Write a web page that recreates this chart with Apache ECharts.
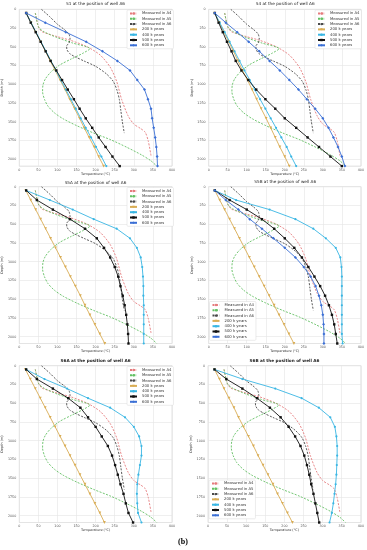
<!DOCTYPE html>
<html><head><meta charset="utf-8">
<script src="https://cdn.jsdelivr.net/npm/echarts/dist/echarts.min.js"></script>
<style>html,body{margin:0;padding:0;background:#fff}#c{width:367px;height:550px}</style>
</head><body><div id="c"></div>
<script>
// ---------- DATA ----------
const panelTitles = ['S1 at the position of well A6','S4 at the position of well A6','S5A at the position of well A6','S5B at the position of well A6','S6A at the position of well A6','S6B at the position of well A6'];
const seriesNames = ['Measured in A4','Measured in A5','Measured in A6','200 k years','400 k years','500 k years','600 k years'];
const xTicks = [0,50,100,150,200,250,300,350,400];
const yTicks = [0,250,500,750,1000,1250,1500,1750,2000];
const depthMax = 2090;

// measured profiles (same in every panel)
const a4Temp  = [42,48,52,60,100,135,178,212,238,255,268,285,300,318,330,338,345];
const a4Depth = [50,200,250,300,365,415,500,610,770,960,1200,1420,1530,1590,1640,1760,1950];
const a5Temp  = [42,48,52,65,98,140,185,165,135,105,82,68,62,61,66,75,92,115,150,195,240,282,320,345,360];
const a5Depth = [50,200,250,300,375,450,525,590,665,745,840,930,1010,1100,1200,1290,1380,1460,1550,1650,1740,1840,1940,2020,2090];
const a6Temp  = [58,80,100,118,130,133,130,124,125,132,145,170,200,228,246,256,262,266,270,275];
const a6Depth = [0,100,200,270,330,400,450,490,540,590,630,690,760,860,960,1080,1200,1350,1500,1650];

// simulated profiles: depth nodes shared by all simulated curves
const simDepth = [50,178,305,433,560,688,815,943,1070,1198,1325,1453,1580,1708,1835,1963,2090];

const s1_200k = [18,31,43,56,69,81,94,107,120,132,145,158,170,183,196,208,221];
const s1_400k = [18,31,44,57,70,83,96,109,122,135,148,161,174,188,201,215,228];
const s1_500k = [18,30,43,56,69,82,97,112,127,143,158,174,191,208,226,244,263];
const s1_600k = [18,68,122,175,218,257,290,309,328,337,345,348,352,356,359,361,362];

const s4_200k = [16,28,40,53,65,77,89,102,114,126,138,151,163,175,187,200,212];
const s4_400k = [16,29,42,55,68,81,94,108,121,135,149,163,177,191,205,217,230];
const s4_500k = [16,26,37,48,60,71,86,104,125,149,175,200,230,260,290,320,350];
const s4_600k = [16,45,75,105,133,160,187,212,236,258,280,300,315,328,340,350,358];

const s5a_200k = [17,30,43,56,69,82,95,108,121,134,147,160,172,185,198,211,224];
const s5a_400k = [18,80,140,195,255,290,308,318,322,324,325,325,326,326,326,326,326];
const s5a_500k = [18,46,88,133,172,203,222,238,250,259,265,271,276,280,283,285,286];
const s5a_600k = [];

const s5b_200k = [16,29,42,55,68,81,94,107,120,133,146,159,172,185,198,211,224];
const s5b_400k = [16,72,160,228,275,308,334,346,349,350,350,350,350,350,350,350,352];
const s5b_500k = [16,55,100,140,172,200,225,245,262,278,293,306,316,324,330,334,338];
const s5b_600k = [16,45,78,108,140,170,200,228,250,268,281,290,296,300,302,303,303];

const s6a_200k = [16,29,42,55,68,81,94,107,120,133,146,159,172,185,198,211,223];
const s6a_400k = [18,66,125,180,238,277,300,314,320,320,316,312,309,308,309,311,320];
const s6a_500k = [18,46,88,128,160,180,200,216,232,243,251,258,265,273,279,286,298];
const s6a_600k = [];

const s6b_200k = [17,30,42,55,68,80,93,106,119,131,144,157,170,182,195,208,221];
const s6b_400k = [17,90,176,245,290,320,332,336,338,338,337,336,334,331,328,324,318];
const s6b_500k = [17,48,90,128,162,190,211,228,242,252,259,265,270,276,281,286,291];
const s6b_600k = [];

const simPanels = [
  [s1_200k, s1_400k, s1_500k, s1_600k],
  [s4_200k, s4_400k, s4_500k, s4_600k],
  [s5a_200k, s5a_400k, s5a_500k, s5a_600k],
  [s5b_200k, s5b_400k, s5b_500k, s5b_600k],
  [s6a_200k, s6a_400k, s6a_500k, s6a_600k],
  [s6b_200k, s6b_400k, s6b_500k, s6b_600k]
];

// ---------- LAYOUT / STYLE ----------
const layout = [
  {l:19,  t:9.3,   title:4.3,   bold:false, leg:{left:127, top:10}},
  {l:208.7,t:9.3,  title:4.3,   bold:false, leg:{left:315, top:10}},
  {l:19,  t:186.7, title:183.3, bold:false, leg:{left:127, top:187.5}},
  {l:208.7,t:186.7,title:182.3, bold:false, leg:{left:209.5, top:301.5}},
  {l:19,  t:365.7, title:360.5, bold:true,  leg:{left:127, top:366.5}},
  {l:208,  t:365.7,title:360.5, bold:true,  leg:{left:209, top:480}}
];
const W = 153, H = 156.8;
const styles = [
  {color:'#e57b7d', dash:true},
  {color:'#63c063', dash:true},
  {color:'#4a4a4a', dash:true},
  {color:'#d9ad55', symbol:'triangle', rotate:180, size:2.8},
  {color:'#39b6e3', symbol:'circle', size:2.2},
  {color:'#111111', symbol:'rect', size:2.4},
  {color:'#3b6fd5', symbol:'diamond', size:3}
];
const measured = [[a4Temp,a4Depth],[a5Temp,a5Depth],[a6Temp,a6Depth]];

function pairs(t, d){ return t.map((v,i)=>[v, d[i]]); }

const grids=[], xAxes=[], yAxes=[], series=[], legends=[], graphics=[];
const lblFont = {fontSize:3.3, color:'#555', fontFamily:'DejaVu Sans'};
layout.forEach((p, i) => {
  grids.push({left:p.l, top:p.t, width:W, height:H, show:true, borderColor:'#d0d0d0', borderWidth:0.6});
  xAxes.push({gridIndex:i, type:'value', min:xTicks[0], max:xTicks[xTicks.length-1], interval:xTicks[1]-xTicks[0],
    axisLine:{show:false}, axisTick:{show:false},
    axisLabel:Object.assign({margin:2.5}, lblFont),
    splitLine:{lineStyle:{color:'#e4e4e4', width:0.6}},
    name:'Temperature (°C)', nameLocation:'middle', nameGap:6,
    nameTextStyle:{fontSize:3.4, color:'#333', fontFamily:'DejaVu Sans'}});
  yAxes.push({gridIndex:i, type:'value', inverse:true, min:0, max:depthMax, interval:yTicks[1]-yTicks[0],
    axisLine:{show:false}, axisTick:{show:false},
    axisLabel:Object.assign({margin:3, formatter:v => yTicks.indexOf(v) >= 0 ? String(v) : ''}, lblFont),
    splitLine:{lineStyle:{color:'#e4e4e4', width:0.6}},
    name:'Depth (m)', nameLocation:'middle', nameGap:13, nameRotate:90,
    nameTextStyle:{fontSize:3.4, color:'#333', fontFamily:'DejaVu Sans'}});
  measured.forEach((m, k) => {
    const s = styles[k];
    series.push({type:'line', name:seriesNames[k], xAxisIndex:i, yAxisIndex:i,
      data:pairs(m[0], m[1]), symbol:'none', showSymbol:false, smooth:0.25,
      lineStyle:{color:s.color, width:0.9, type:[2,1.4]}, itemStyle:{color:s.color}});
  });
  simPanels[i].forEach((arr, k) => {
    const s = styles[k+3];
    series.push({type:'line', name:seriesNames[k+3], xAxisIndex:i, yAxisIndex:i,
      data:pairs(arr, simDepth), symbol:s.symbol, symbolSize:s.size, symbolRotate:s.rotate||0, showSymbol:true,
      lineStyle:{color:s.color, width:0.9}, itemStyle:{color:s.color}});
  });
  legends.push({left:p.leg.left, top:p.leg.top, orient:'vertical', data:seriesNames,
    itemWidth:7, itemHeight:3, itemGap:1.3, padding:[1.5,2,1.5,2],
    backgroundColor:'#fff', borderColor:'#d8d8d8', borderWidth:0.5, borderRadius:1,
    textStyle:{fontSize:3.8, color:'#333', fontFamily:'DejaVu Sans'}});
  graphics.push({type:'text', x:p.l + W/2, y:p.title,
    style:{text:panelTitles[i], align:'center', verticalAlign:'middle',
      font:(p.bold?'bold ':'') + '4.2px "DejaVu Sans"', fill:'#222'}});
});
graphics.push({type:'text', x:183, y:542, style:{text:'(b)', align:'center', verticalAlign:'middle', font:'bold 8px "Liberation Serif"', fill:'#000'}});

const chart = echarts.init(document.getElementById('c'), null, {renderer:'canvas'});
chart.setOption({animation:false, backgroundColor:'#fff', grid:grids, xAxis:xAxes, yAxis:yAxes,
  series:series, legend:legends, graphic:graphics});
</script></body></html>
